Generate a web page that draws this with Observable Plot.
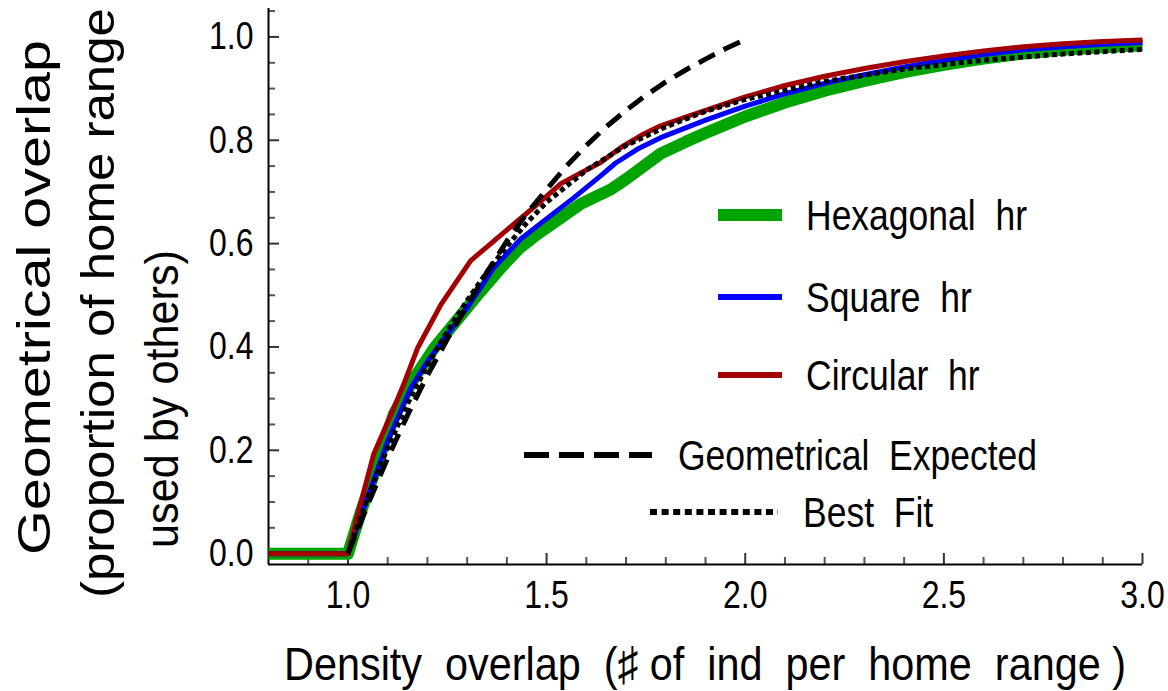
<!DOCTYPE html>
<html>
<head>
<meta charset="utf-8">
<script src="https://cdn.jsdelivr.net/npm/d3@7"></script>
<script src="https://cdn.jsdelivr.net/npm/@observablehq/plot@0.6"></script>
<style>
  html, body { margin: 0; padding: 0; background: #fff; }
</style>
</head>
<body>
<div id="chart"></div>
<script>
const FONT = "'Liberation Sans', Arial, Helvetica, sans-serif";

// ---- scales / ticks ----
const xDomain = [0.8, 3.0];
const yDomain = [-0.021, 1.055];
const xMajorTicks = [1.0, 1.5, 2.0, 2.5, 3.0];
const xMinorTicks = [0.9, 1.1, 1.2, 1.3, 1.4, 1.6, 1.7, 1.8, 1.9, 2.1, 2.2, 2.3, 2.4, 2.6, 2.7, 2.8, 2.9];
const yMajorTicks = [0, 0.2, 0.4, 0.6, 0.8, 1.0];
const yMinorTicks = [0.05, 0.1, 0.15, 0.25, 0.3, 0.35, 0.45, 0.5, 0.55, 0.65, 0.7, 0.75, 0.85, 0.9, 0.95, 1.05];

// ---- texts ----
const xTitle = "Density\u00a0\u00a0overlap\u00a0\u00a0(\u266f\u00a0of\u00a0\u00a0ind\u00a0\u00a0per\u00a0\u00a0home\u00a0\u00a0range\u00a0)";
const yTitleLines = ["Geometrical overlap", "(proportion of home range", "used by others)"];
const legendLabels = ["Hexagonal\u00a0\u00a0hr", "Square\u00a0\u00a0hr", "Circular\u00a0\u00a0hr", "Geometrical\u00a0\u00a0Expected", "Best\u00a0\u00a0Fit"];

// ---- series (x = density overlap, y = geometrical overlap) ----
const hexagonal = [[0.8,0],[1.0,0],[1.03,0.075],[1.066,0.155],[1.116,0.271],[1.167,0.340],[1.217,0.398],[1.267,0.445],[1.326,0.500],[1.385,0.553],[1.43,0.590],[1.478,0.619],[1.536,0.650],[1.586,0.677],[1.662,0.705],[1.704,0.727],[1.787,0.774],[1.85,0.797],[1.9,0.814],[2.0,0.846],[2.1,0.873],[2.2,0.896],[2.3,0.915],[2.4,0.932],[2.5,0.946],[2.6,0.958],[2.7,0.968],[2.8,0.975],[2.9,0.980],[3.0,0.984]];
const square = [[0.8,0],[1.0,0],[1.05,0.110],[1.1,0.218],[1.158,0.320],[1.201,0.373],[1.251,0.425],[1.302,0.478],[1.367,0.553],[1.435,0.609],[1.493,0.644],[1.569,0.689],[1.636,0.731],[1.674,0.756],[1.729,0.783],[1.787,0.805],[1.85,0.824],[1.9,0.839],[2.0,0.866],[2.1,0.890],[2.2,0.910],[2.3,0.927],[2.4,0.942],[2.5,0.955],[2.6,0.966],[2.7,0.975],[2.8,0.981],[2.9,0.986],[3.0,0.989]];
const circular = [[0.8,0],[1.0,0],[1.025,0.077],[1.065,0.193],[1.116,0.283],[1.141,0.329],[1.176,0.399],[1.234,0.482],[1.309,0.567],[1.367,0.605],[1.418,0.638],[1.478,0.677],[1.536,0.716],[1.586,0.737],[1.636,0.757],[1.687,0.786],[1.737,0.809],[1.787,0.828],[1.85,0.845],[1.9,0.858],[2.0,0.884],[2.1,0.906],[2.2,0.924],[2.3,0.939],[2.4,0.952],[2.5,0.963],[2.6,0.973],[2.7,0.981],[2.8,0.987],[2.9,0.991],[3.0,0.994]];
const expected = [[1.0,0],[1.05,0.095],[1.1,0.185],[1.15,0.268],[1.2,0.345],[1.25,0.415],[1.3,0.480],[1.35,0.545],[1.4,0.605],[1.45,0.658],[1.5,0.705],[1.55,0.750],[1.6,0.790],[1.65,0.826],[1.7,0.858],[1.75,0.887],[1.8,0.913],[1.85,0.936],[1.9,0.957],[1.95,0.977],[2.0,0.995]];
const bestFit = [[1.0,0],[1.05,0.11],[1.1,0.205],[1.15,0.29],[1.2,0.365],[1.25,0.43],[1.3,0.49],[1.35,0.545],[1.4,0.595],[1.45,0.64],[1.5,0.68],[1.6,0.742],[1.7,0.79],[1.8,0.826],[1.9,0.856],[2.0,0.879],[2.2,0.914],[2.4,0.938],[2.6,0.955],[2.8,0.967],[3.0,0.976]];

const seriesStyles = [
  {data: hexagonal, stroke: "#00a400", strokeWidth: 12},
  {data: square, stroke: "#0000ff", strokeWidth: 5},
  {data: circular, stroke: "#a50000", strokeWidth: 5},
  {data: expected, stroke: "#000", strokeWidth: 5, dash: "18,10"},
  {data: bestFit, stroke: "#000", strokeWidth: 5, dash: "5,3.5"}
];

const lineMarks = seriesStyles.map(s => Plot.line(s.data, {
  x: d => d[0], y: d => d[1], stroke: s.stroke, strokeWidth: s.strokeWidth,
  strokeDasharray: s.dash, strokeLinejoin: "round", strokeLinecap: "butt"
}));

const chart = Plot.plot({
  width: 1168, height: 691,
  marginLeft: 268, marginRight: 26, marginTop: 8, marginBottom: 127,
  style: {fontFamily: FONT, background: "#fff", color: "#000"},
  x: {domain: xDomain},
  y: {domain: yDomain},
  marks: [
    // inward ticks (shifted into the frame by their own length)
    Plot.axisY(yMinorTicks, {anchor: "left", tickSize: 7, dx: 7, stroke: "#555", strokeWidth: 2, tickFormat: () => "", label: null}),
    Plot.axisY(yMajorTicks, {anchor: "left", tickSize: 11, dx: 11, stroke: "#333", strokeWidth: 2, tickFormat: () => "", label: null}),
    Plot.axisX(xMinorTicks, {anchor: "bottom", tickSize: 7, dy: -7, stroke: "#555", strokeWidth: 2, tickFormat: () => "", label: null}),
    Plot.axisX(xMajorTicks, {anchor: "bottom", tickSize: 11, dy: -11, stroke: "#333", strokeWidth: 2, tickFormat: () => "", label: null}),
    // tick labels
    Plot.axisY(yMajorTicks, {anchor: "left", tickSize: 0, tickPadding: 15, tickFormat: d3.format(".1f"), fontSize: 32, label: null}),
    Plot.axisX(xMajorTicks, {anchor: "bottom", tickSize: 0, tickPadding: 16, tickFormat: d3.format(".1f"), fontSize: 32, label: null}),
    // axis lines
    Plot.ruleX([xDomain[0]], {stroke: "#000", strokeWidth: 2}),
    Plot.ruleY([yDomain[0]], {stroke: "#000", strokeWidth: 2}),
    ...lineMarks
  ]
});
document.getElementById("chart").appendChild(chart);

const svg = d3.select(chart);

// vertical stretch of tick labels (reference text is slightly tall)
svg.selectAll('g[aria-label$="tick label"] text').each(function () {
  const t = this.getAttribute("transform");
  if (t) this.setAttribute("transform", t + " scale(1,1.2)");
  else {
    const x = +this.getAttribute("x") || 0, y = +this.getAttribute("y") || 0;
    this.removeAttribute("x"); this.removeAttribute("y");
    this.setAttribute("transform", `translate(${x},${y}) scale(1,1.2)`);
  }
});

// ---- axis titles ----
svg.append("text")
  .attr("transform", "translate(705,680) scale(1,1.2)")
  .attr("text-anchor", "middle")
  .attr("font-family", FONT).attr("font-size", 39)
  .attr("textLength", 842).attr("lengthAdjust", "spacingAndGlyphs")
  .attr("fill", "#000")
  .text(xTitle);

const yTitleLayout = [
  {bx: 50, start: 555, len: 515},
  {bx: 114, start: 598, len: 590},
  {bx: 178, start: 548, len: 298}
];
yTitleLines.forEach((line, i) => {
  const L = yTitleLayout[i];
  svg.append("text")
    .attr("transform", `translate(${L.bx},${L.start}) rotate(-90)`)
    .attr("text-anchor", "start")
    .attr("font-family", FONT).attr("font-size", 46)
    .attr("textLength", L.len).attr("lengthAdjust", "spacingAndGlyphs")
    .attr("fill", "#000")
    .text(line);
});

// ---- legend ----
const legendLayout = [
  {x1: 718, x2: 782, y: 215, tx: 806},
  {x1: 718, x2: 782, y: 297, tx: 806},
  {x1: 718, x2: 782, y: 375, tx: 806},
  {x1: 524, x2: 652, y: 455, tx: 678, dash: "25,10", w: 6},
  {x1: 650, x2: 778, y: 512, tx: 803, dash: "7,4.6", w: 6}
];
const leg = svg.append("g").attr("aria-label", "legend").attr("text-anchor", "start");
legendLabels.forEach((label, i) => {
  const L = legendLayout[i], s = seriesStyles[i];
  leg.append("line")
    .attr("x1", L.x1).attr("x2", L.x2).attr("y1", L.y).attr("y2", L.y)
    .attr("stroke", s.stroke).attr("stroke-width", L.w || s.strokeWidth + (i === 0 ? 0 : 1))
    .attr("stroke-dasharray", L.dash || null);
  leg.append("text")
    .attr("transform", `translate(${L.tx},${L.y}) scale(1,1.2)`)
    .attr("dy", "0.358em")
    .attr("text-anchor", "start")
    .attr("font-family", FONT).attr("font-size", 35.5)
    .attr("fill", "#000")
    .text(label);
});
</script>
</body>
</html>
